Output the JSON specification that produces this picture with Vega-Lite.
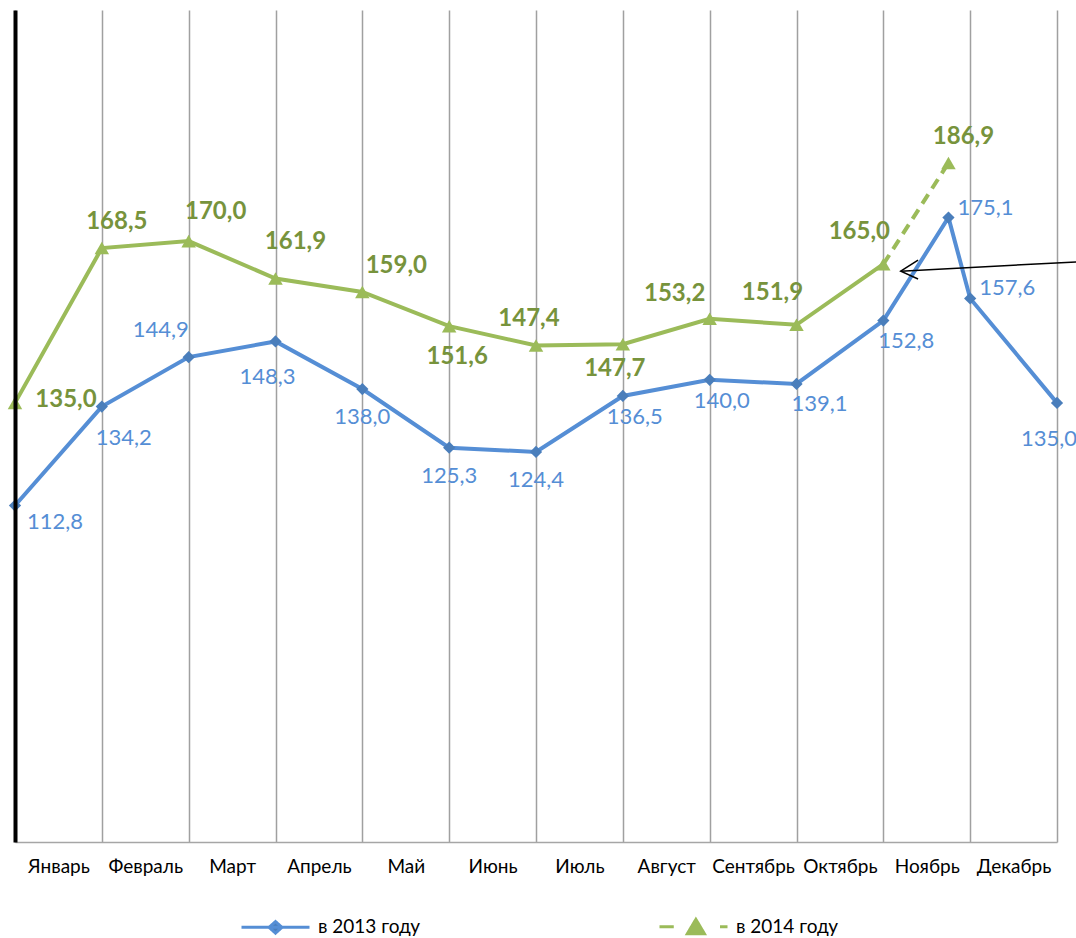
{
  "$schema": "https://vega.github.io/schema/vega-lite/v6.json",
  "width": 1042,
  "height": 832,
  "autosize": {"type": "none"},
  "padding": {"left": 15, "top": 10, "right": 19, "bottom": 96},
  "background": "white",
  "config": {"view": {"stroke": null}, "font": "Lato"},
  "datasets": {
    "vals": [
      {"series": "в 2013 году", "pos": 0, "value": 112.8, "label": "112,8"},
      {"series": "в 2013 году", "pos": 1, "value": 134.2, "label": "134,2"},
      {"series": "в 2013 году", "pos": 2, "value": 144.9, "label": "144,9"},
      {"series": "в 2013 году", "pos": 3, "value": 148.3, "label": "148,3"},
      {"series": "в 2013 году", "pos": 4, "value": 138.0, "label": "138,0"},
      {"series": "в 2013 году", "pos": 5, "value": 125.3, "label": "125,3"},
      {"series": "в 2013 году", "pos": 6, "value": 124.4, "label": "124,4"},
      {"series": "в 2013 году", "pos": 7, "value": 136.5, "label": "136,5"},
      {"series": "в 2013 году", "pos": 8, "value": 140.0, "label": "140,0"},
      {"series": "в 2013 году", "pos": 9, "value": 139.1, "label": "139,1"},
      {"series": "в 2013 году", "pos": 10, "value": 152.8, "label": "152,8"},
      {"series": "в 2013 году", "pos": 10.75, "value": 175.1, "label": "175,1"},
      {"series": "в 2013 году", "pos": 11, "value": 157.6, "label": "157,6"},
      {"series": "в 2013 году", "pos": 12, "value": 135.0, "label": "135,0"},
      {"series": "в 2014 году", "pos": 0, "value": 135.0, "label": "135,0"},
      {"series": "в 2014 году", "pos": 1, "value": 168.5, "label": "168,5"},
      {"series": "в 2014 году", "pos": 2, "value": 170.0, "label": "170,0"},
      {"series": "в 2014 году", "pos": 3, "value": 161.9, "label": "161,9"},
      {"series": "в 2014 году", "pos": 4, "value": 159.0, "label": "159,0"},
      {"series": "в 2014 году", "pos": 5, "value": 151.6, "label": "151,6"},
      {"series": "в 2014 году", "pos": 6, "value": 147.4, "label": "147,4"},
      {"series": "в 2014 году", "pos": 7, "value": 147.7, "label": "147,7"},
      {"series": "в 2014 году", "pos": 8, "value": 153.2, "label": "153,2"},
      {"series": "в 2014 году", "pos": 9, "value": 151.9, "label": "151,9"},
      {"series": "в 2014 году", "pos": 10, "value": 165.0, "label": "165,0"},
      {"series": "в 2014 году", "pos": 10.75, "value": 186.9, "label": "186,9"}
    ],
    "arrow": [
      {"part": "shaft", "ord": 0, "pos": 12.22, "value": 165.5},
      {"part": "shaft", "ord": 1, "pos": 10.2, "value": 163.5},
      {"part": "head", "ord": 0, "pos": 10.4, "value": 165.9},
      {"part": "head", "ord": 1, "pos": 10.2, "value": 163.5},
      {"part": "head", "ord": 2, "pos": 10.4, "value": 161.8}
    ]
  },
  "data": {"name": "vals"},
  "encoding": {
    "x": {
      "field": "pos", "type": "quantitative",
      "scale": {"domain": [0, 12], "nice": false, "zero": false},
      "axis": {
        "title": null,
        "values": [0, 0.5, 1, 1.5, 2, 2.5, 3, 3.5, 4, 4.5, 5, 5.5, 6, 6.5, 7, 7.5, 8, 8.5, 9, 9.5, 10, 10.5, 11, 11.5, 12],
        "domain": true, "domainColor": "#A6A6A6", "domainWidth": 1.5,
        "ticks": false, "tickSize": 0,
        "grid": true, "gridColor": "#A0A0A0", "gridWidth": 1.5,
        "gridOpacity": {"condition": {"test": "datum.value % 1 != 0", "value": 0}, "value": 1},
        "labelExpr": "datum.value % 1 == 0.5 ? ['Январь','Февраль','Март','Апрель','Май','Июнь','Июль','Август','Сентябрь','Октябрь','Ноябрь','Декабрь'][floor(datum.value)] : ''",
        "labelFont": "Lato", "labelFontSize": 19, "labelColor": "#000000",
        "labelPadding": 15, "labelOverlap": false, "labelBound": false, "labelFlush": false,
        "zindex": 0
      }
    },
    "y": {
      "field": "value", "type": "quantitative",
      "scale": {"domain": [40, 220], "nice": false, "zero": false},
      "axis": {"title": null, "labels": false, "ticks": false, "grid": false, "domain": true, "domainColor": "#000000", "domainWidth": 4, "zindex": 1}
    }
  },
  "layer": [
    {
      "transform": [{"filter": "datum.series == 'в 2014 году' && datum.pos <= 10"}],
      "mark": {"type": "line", "strokeWidth": 4},
      "encoding": {
        "color": {
          "field": "series", "type": "nominal",
          "scale": {"domain": ["в 2013 году", "в 2014 году"], "range": ["#558ED5", "#9BBB59"]},
          "legend": {
            "title": null, "orient": "none", "legendX": 225, "legendY": 881, "direction": "horizontal",
            "padding": 0, "labelFont": "Lato", "labelFontSize": 19, "labelColor": "#000000", "labelOffset": 7,
            "columnPadding": 232, "symbolSize": 4624, "symbolStrokeWidth": 3, "symbolType": "M-1,0H1",
            "encode": {"symbols": {"update": {
              "shape": {"signal": "datum.value == 'в 2013 году' ? 'M-1,0H1M-0.19,0L0,-0.17L0.19,0L0,0.17Z' : 'M-1,0H-0.58M-0.18,0.2L0.07,-0.22L0.32,0.2ZM0.78,0H1'"},
              "fill": {"signal": "datum.value == 'в 2013 году' ? '#4A7EBB' : '#9BBB59'"},
              "stroke": {"signal": "datum.value == 'в 2013 году' ? '#558ED5' : '#9BBB59'"},
              "strokeWidth": {"value": 3},
              "strokeDash": {"value": [1, 0]},
              "opacity": {"value": 1}
            }}}
          }
        }
      }
    },
    {
      "transform": [{"filter": "datum.series == 'в 2014 году' && datum.pos >= 10"}],
      "mark": {"type": "line", "strokeWidth": 4, "strokeDash": [11, 7]},
      "encoding": {
        "color": {
          "field": "series", "type": "nominal",
          "scale": {"domain": ["в 2013 году", "в 2014 году"], "range": ["#558ED5", "#9BBB59"]},
          "legend": {
            "title": null, "orient": "none", "legendX": 225, "legendY": 881, "direction": "horizontal",
            "padding": 0, "labelFont": "Lato", "labelFontSize": 19, "labelColor": "#000000", "labelOffset": 7,
            "columnPadding": 232, "symbolSize": 4624, "symbolStrokeWidth": 3, "symbolType": "M-1,0H1",
            "encode": {"symbols": {"update": {
              "shape": {"signal": "datum.value == 'в 2013 году' ? 'M-1,0H1M-0.19,0L0,-0.17L0.19,0L0,0.17Z' : 'M-1,0H-0.58M-0.18,0.2L0.07,-0.22L0.32,0.2ZM0.78,0H1'"},
              "fill": {"signal": "datum.value == 'в 2013 году' ? '#4A7EBB' : '#9BBB59'"},
              "stroke": {"signal": "datum.value == 'в 2013 году' ? '#558ED5' : '#9BBB59'"},
              "strokeWidth": {"value": 3},
              "strokeDash": {"value": [1, 0]},
              "opacity": {"value": 1}
            }}}
          }
        }
      }
    },
    {
      "transform": [{"filter": "datum.series == 'в 2013 году'"}],
      "mark": {"type": "line", "strokeWidth": 4},
      "encoding": {
        "color": {
          "field": "series", "type": "nominal",
          "scale": {"domain": ["в 2013 году", "в 2014 году"], "range": ["#558ED5", "#9BBB59"]},
          "legend": {
            "title": null, "orient": "none", "legendX": 225, "legendY": 881, "direction": "horizontal",
            "padding": 0, "labelFont": "Lato", "labelFontSize": 19, "labelColor": "#000000", "labelOffset": 7,
            "columnPadding": 232, "symbolSize": 4624, "symbolStrokeWidth": 3, "symbolType": "M-1,0H1",
            "encode": {"symbols": {"update": {
              "shape": {"signal": "datum.value == 'в 2013 году' ? 'M-1,0H1M-0.19,0L0,-0.17L0.19,0L0,0.17Z' : 'M-1,0H-0.58M-0.18,0.2L0.07,-0.22L0.32,0.2ZM0.78,0H1'"},
              "fill": {"signal": "datum.value == 'в 2013 году' ? '#4A7EBB' : '#9BBB59'"},
              "stroke": {"signal": "datum.value == 'в 2013 году' ? '#558ED5' : '#9BBB59'"},
              "strokeWidth": {"value": 3},
              "strokeDash": {"value": [1, 0]},
              "opacity": {"value": 1}
            }}}
          }
        }
      }
    },
    {
      "transform": [{"filter": "datum.series == 'в 2014 году'"}],
      "mark": {"type": "point", "shape": "triangle-up", "filled": true, "size": 210, "color": "#9BBB59", "opacity": 1}
    },
    {
      "transform": [{"filter": "datum.series == 'в 2013 году'"}],
      "mark": {"type": "point", "shape": "diamond", "filled": true, "size": 150, "color": "#4A7EBB", "opacity": 1}
    },
    {
      "data": {"name": "arrow"},
      "mark": {"type": "line", "color": "#000000", "strokeWidth": 1.5},
      "encoding": {"detail": {"field": "part"}, "order": {"field": "ord", "type": "quantitative"}}
    },
    {
      "transform": [{"filter": "datum.series == 'в 2013 году' && indexof(['148,3','135,0'], datum.label) >= 0"}],
      "mark": {"type": "text", "font": "Lato", "fontSize": 22, "color": "#558ED5", "align": "center", "baseline": "middle", "dx": -8, "dy": 36},
      "encoding": {"text": {"field": "label"}}
    },
    {
      "transform": [{"filter": "datum.series == 'в 2013 году' && indexof(['138,0','125,3','124,4'], datum.label) >= 0"}],
      "mark": {"type": "text", "font": "Lato", "fontSize": 22, "color": "#558ED5", "align": "center", "baseline": "middle", "dx": 0, "dy": 28},
      "encoding": {"text": {"field": "label"}}
    },
    {
      "transform": [{"filter": "datum.series == 'в 2013 году' && indexof(['144,9'], datum.label) >= 0"}],
      "mark": {"type": "text", "font": "Lato", "fontSize": 22, "color": "#558ED5", "align": "center", "baseline": "middle", "dx": -28, "dy": -27},
      "encoding": {"text": {"field": "label"}}
    },
    {
      "transform": [{"filter": "datum.series == 'в 2013 году' && indexof(['112,8'], datum.label) >= 0"}],
      "mark": {"type": "text", "font": "Lato", "fontSize": 22, "color": "#558ED5", "align": "center", "baseline": "middle", "dx": 40, "dy": 16},
      "encoding": {"text": {"field": "label"}}
    },
    {
      "transform": [{"filter": "datum.series == 'в 2013 году' && indexof(['134,2'], datum.label) >= 0"}],
      "mark": {"type": "text", "font": "Lato", "fontSize": 22, "color": "#558ED5", "align": "center", "baseline": "middle", "dx": 22, "dy": 31},
      "encoding": {"text": {"field": "label"}}
    },
    {
      "transform": [{"filter": "datum.series == 'в 2013 году' && indexof(['136,5','140,0'], datum.label) >= 0"}],
      "mark": {"type": "text", "font": "Lato", "fontSize": 22, "color": "#558ED5", "align": "center", "baseline": "middle", "dx": 12, "dy": 21},
      "encoding": {"text": {"field": "label"}}
    },
    {
      "transform": [{"filter": "datum.series == 'в 2013 году' && indexof(['152,8','139,1'], datum.label) >= 0"}],
      "mark": {"type": "text", "font": "Lato", "fontSize": 22, "color": "#558ED5", "align": "center", "baseline": "middle", "dx": 23, "dy": 20},
      "encoding": {"text": {"field": "label"}}
    },
    {
      "transform": [{"filter": "datum.series == 'в 2013 году' && indexof(['175,1','157,6'], datum.label) >= 0"}],
      "mark": {"type": "text", "font": "Lato", "fontSize": 22, "color": "#558ED5", "align": "center", "baseline": "middle", "dx": 37, "dy": -10},
      "encoding": {"text": {"field": "label"}}
    },
    {
      "transform": [{"filter": "datum.series == 'в 2014 году' && indexof(['168,5','186,9'], datum.label) >= 0"}],
      "mark": {"type": "text", "font": "Lato", "fontSize": 24, "fontWeight": "bold", "color": "#77933C", "align": "center", "baseline": "middle", "dx": 15, "dy": -26},
      "encoding": {"text": {"field": "label"}}
    },
    {
      "transform": [{"filter": "datum.series == 'в 2014 году' && indexof(['170,0'], datum.label) >= 0"}],
      "mark": {"type": "text", "font": "Lato", "fontSize": 24, "fontWeight": "bold", "color": "#77933C", "align": "center", "baseline": "middle", "dx": 27, "dy": -29},
      "encoding": {"text": {"field": "label"}}
    },
    {
      "transform": [{"filter": "datum.series == 'в 2014 году' && indexof(['161,9'], datum.label) >= 0"}],
      "mark": {"type": "text", "font": "Lato", "fontSize": 24, "fontWeight": "bold", "color": "#77933C", "align": "center", "baseline": "middle", "dx": 20, "dy": -37},
      "encoding": {"text": {"field": "label"}}
    },
    {
      "transform": [{"filter": "datum.series == 'в 2014 году' && indexof(['159,0'], datum.label) >= 0"}],
      "mark": {"type": "text", "font": "Lato", "fontSize": 24, "fontWeight": "bold", "color": "#77933C", "align": "center", "baseline": "middle", "dx": 34, "dy": -26},
      "encoding": {"text": {"field": "label"}}
    },
    {
      "transform": [{"filter": "datum.series == 'в 2014 году' && indexof(['151,6'], datum.label) >= 0"}],
      "mark": {"type": "text", "font": "Lato", "fontSize": 24, "fontWeight": "bold", "color": "#77933C", "align": "center", "baseline": "middle", "dx": 8, "dy": 31},
      "encoding": {"text": {"field": "label"}}
    },
    {
      "transform": [{"filter": "datum.series == 'в 2014 году' && indexof(['147,7'], datum.label) >= 0"}],
      "mark": {"type": "text", "font": "Lato", "fontSize": 24, "fontWeight": "bold", "color": "#77933C", "align": "center", "baseline": "middle", "dx": -8, "dy": 25},
      "encoding": {"text": {"field": "label"}}
    },
    {
      "transform": [{"filter": "datum.series == 'в 2014 году' && indexof(['147,4'], datum.label) >= 0"}],
      "mark": {"type": "text", "font": "Lato", "fontSize": 24, "fontWeight": "bold", "color": "#77933C", "align": "center", "baseline": "middle", "dx": -7, "dy": -27},
      "encoding": {"text": {"field": "label"}}
    },
    {
      "transform": [{"filter": "datum.series == 'в 2014 году' && indexof(['153,2'], datum.label) >= 0"}],
      "mark": {"type": "text", "font": "Lato", "fontSize": 24, "fontWeight": "bold", "color": "#77933C", "align": "center", "baseline": "middle", "dx": -35, "dy": -25},
      "encoding": {"text": {"field": "label"}}
    },
    {
      "transform": [{"filter": "datum.series == 'в 2014 году' && indexof(['151,9','165,0'], datum.label) >= 0"}],
      "mark": {"type": "text", "font": "Lato", "fontSize": 24, "fontWeight": "bold", "color": "#77933C", "align": "center", "baseline": "middle", "dx": -24, "dy": -32},
      "encoding": {"text": {"field": "label"}}
    },
    {
      "transform": [{"filter": "datum.series == 'в 2014 году' && indexof(['135,0'], datum.label) >= 0"}],
      "mark": {"type": "text", "font": "Lato", "fontSize": 24, "fontWeight": "bold", "color": "#77933C", "align": "center", "baseline": "middle", "dx": 51, "dy": -3},
      "encoding": {"text": {"field": "label"}}
    }
  ]
}
